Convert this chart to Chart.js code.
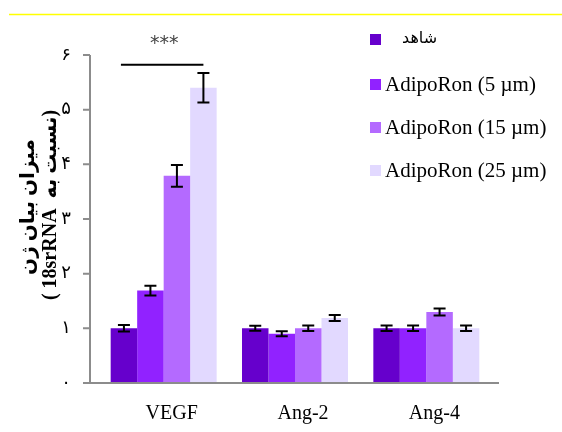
<!DOCTYPE html>
<html>
<head>
<meta charset="utf-8">
<script src="https://cdn.jsdelivr.net/npm/chart.js@4/dist/chart.umd.min.js"></script>
<style>
  body { margin: 0; background: #fff; }
  #wrap { width: 562px; height: 432px; }
</style>
</head>
<body>
<div id="wrap"><canvas id="chart"></canvas></div>
<script>
// data
var categories = ['VEGF', 'Ang-2', 'Ang-4'];
var seriesNames = ['شاهد', 'AdipoRon (5 µm)', 'AdipoRon (15 µm)', 'AdipoRon (25 µm)'];
var control = [1.0, 1.0, 1.0];
var controlErr = [0.06, 0.045, 0.05];
var adipo5 = [1.69, 0.9, 1.0];
var adipo5Err = [0.09, 0.045, 0.05];
var adipo15 = [3.79, 1.0, 1.3];
var adipo15Err = [0.2, 0.05, 0.065];
var adipo25 = [5.4, 1.19, 1.0];
var adipo25Err = [0.27, 0.055, 0.05];
var yTicks = [0, 1, 2, 3, 4, 5, 6];
var persianDigits = ['۰', '۱', '۲', '۳', '۴', '۵', '۶'];
var barColors = ['#6600cc', '#9122ff', '#b46aff', '#e2d9ff'];

var errors = [controlErr, adipo5Err, adipo15Err, adipo25Err];

// axis lines, tick marks, error bars, significance mark, legend, y title
var decor = {
    id: 'decor',
    beforeDraw: function (chart) {
        var ctx = chart.ctx;
        ctx.save();
        ctx.fillStyle = '#fff';
        ctx.fillRect(0, 0, chart.width, chart.height);
        ctx.strokeStyle = '#ffff00';
        ctx.lineWidth = 1.5;
        ctx.beginPath();
        ctx.moveTo(9, 14.5);
        ctx.lineTo(562, 14.5);
        ctx.stroke();
        ctx.restore();
    },
    afterDatasetsDraw: function (chart) {
        var ctx = chart.ctx;
        var area = chart.chartArea;
        var y = chart.scales.y;
        var axisX = area.left - 8;
        ctx.save();
        // axes
        ctx.strokeStyle = '#8c8c8c';
        ctx.lineWidth = 2;
        ctx.beginPath();
        ctx.moveTo(axisX, y.getPixelForValue(6));
        ctx.lineTo(axisX, area.bottom);
        ctx.lineTo(area.right + 7, area.bottom);
        yTicks.forEach(function (t) {
            var py = y.getPixelForValue(t);
            ctx.moveTo(axisX - 7, py);
            ctx.lineTo(axisX, py);
        });
        ctx.stroke();

        // error bars
        ctx.strokeStyle = '#000';
        ctx.lineWidth = 2;
        chart.data.datasets.forEach(function (ds, di) {
            var meta = chart.getDatasetMeta(di);
            meta.data.forEach(function (bar, i) {
                var v = ds.data[i], e = errors[di][i];
                var top = y.getPixelForValue(v + e);
                var bot = y.getPixelForValue(v - e);
                ctx.beginPath();
                ctx.moveTo(bar.x, top);
                ctx.lineTo(bar.x, bot);
                ctx.moveTo(bar.x - 6, top);
                ctx.lineTo(bar.x + 6, top);
                ctx.moveTo(bar.x - 6, bot);
                ctx.lineTo(bar.x + 6, bot);
                ctx.stroke();
            });
        });

        // significance bracket over VEGF
        var x0 = chart.getDatasetMeta(0).data[0].x - 3;
        var x1 = chart.getDatasetMeta(3).data[0].x;
        var ly = y.getPixelForValue(5.82);
        ctx.strokeStyle = '#000';
        ctx.lineWidth = 2;
        ctx.beginPath();
        ctx.moveTo(x0, ly);
        ctx.lineTo(x1, ly);
        ctx.stroke();
        ctx.fillStyle = '#444';
        ctx.font = '19px "DejaVu Sans"';
        ctx.textAlign = 'center';
        ctx.textBaseline = 'middle';
        ctx.fillText('***', (x0 + x1) / 2 + 2, y.getPixelForValue(6.2));

        // legend
        var rows = [39, 84, 127, 170];
        ctx.textAlign = 'left';
        chart.data.datasets.forEach(function (ds, di) {
            ctx.fillStyle = ds.backgroundColor;
            ctx.fillRect(370, rows[di] - 5, 11, 11);
            ctx.fillStyle = '#000';
            if (di === 0) {
                ctx.font = '16px "DejaVu Sans"';
                ctx.fillText(ds.label, 402, rows[di]);
            } else {
                ctx.font = '21px "Liberation Serif"';
                ctx.fillText(ds.label, 385, rows[di] + 1);
            }
        });

        // y axis title (two lines, rotated)
        ctx.fillStyle = '#000';
        ctx.textAlign = 'center';
        ctx.font = 'bold 20px "Liberation Serif", "DejaVu Sans"';
        ctx.translate(0, 207);
        ctx.rotate(-Math.PI / 2);
        ctx.fillText('میزان بیان ژن', 0, 29);
        ctx.fillText('( 18srRNA  نسبت به)', 2, 51);
        ctx.restore();
    }
};

var barChart = new Chart(document.getElementById('chart').getContext('2d'), {
    type: 'bar',
    data: {
        labels: categories,
        datasets: [control, adipo5, adipo15, adipo25].map(function (vals, i) {
            return {
                label: seriesNames[i],
                data: vals,
                backgroundColor: barColors[i],
                borderWidth: 0,
                categoryPercentage: 0.807,
                barPercentage: 1.0
            };
        })
    },
    options: {
        responsive: true,
        maintainAspectRatio: false,
        animation: false,
        layout: { padding: { left: 0, right: 70, top: 55, bottom: 0 } },
        plugins: {
            legend: { display: false },
            tooltip: { enabled: false }
        },
        scales: {
            x: {
                grid: { display: false },
                border: { display: false },
                ticks: {
                    color: '#000',
                    font: { family: 'Liberation Serif', size: 20 },
                    padding: 11,
                    labelOffset: 8
                },
                afterFit: function (scale) { scale.height = 49; }
            },
            y: {
                min: 0,
                max: 6,
                grid: { display: true, drawOnChartArea: false, color: 'rgba(0,0,0,0)', tickLength: 15 },
                border: { display: false },
                ticks: {
                    stepSize: 1,
                    color: '#000',
                    padding: 12,
                    font: { family: 'DejaVu Sans', size: 18 },
                    callback: function (v) { return persianDigits[v]; }
                },
                afterFit: function (scale) { scale.width = 98; }
            }
        }
    },
    plugins: [decor]
});
</script>
</body>
</html>
